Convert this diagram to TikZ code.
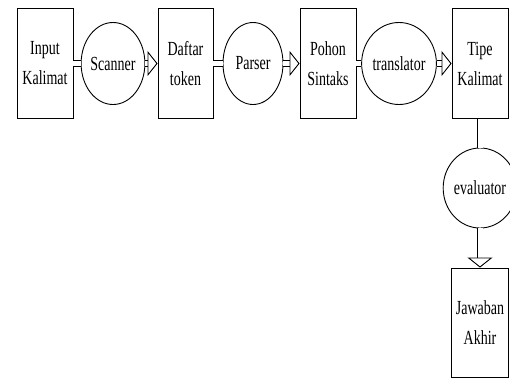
\documentclass[tikz,border=0pt]{standalone}
\usepackage{fontspec}
\setmainfont{Liberation Serif}
\usetikzlibrary{shapes.geometric,arrows.meta}
\newcommand{\nar}[1]{\scalebox{0.7}[1]{#1}}
\tikzset{
	box/.style={draw, line width=0.9pt, minimum width=56pt, minimum height=110pt, inner sep=0pt, align=center},
	bubble/.style={draw, ellipse, line width=0.9pt, minimum width=62pt, minimum height=82pt, inner sep=0pt},
	link/.style={double, double distance=5pt, line width=0.9pt},
	flow/.style={link, -{Triangle[open,length=10pt,width=25pt,line width=0.9pt]}}
}
\begin{document}
\begin{tikzpicture}[x=1pt,y=-1pt,font=\fontsize{20}{30}\selectfont]
	\useasboundingbox (0,0) rectangle (510,378);
	\node[box] (inp) at (45,63.5) {\nar{Input}\\\nar{Kalimat}};
	\node[bubble] (scan) at (113,63.5) {\nar{Scanner}};
	\node[box, minimum width=55pt] (daf) at (185.5,63.5) {\nar{Daftar}\\\nar{token}};
	\node[bubble, minimum width=60pt] (pars) at (253,63.5) {\nar{Parser}};
	\node[box] (poh) at (328,63.5) {\nar{Pohon}\\\nar{Sintaks}};
	\node[bubble, minimum width=68pt] (trans) at (399,63.5) {\nar{translator}};
	\node[box] (tipe) at (480,63.5) {\nar{Tipe}\\\nar{Kalimat}};
	\node[bubble, minimum width=70pt, minimum height=80pt] (eval) at (480,188) {\nar{evaluator}};
	\node[box, minimum width=57pt, minimum height=109pt] (jaw) at (480,322.5) {\nar{Jawaban}\\\nar{Akhir}};
	% connectors
	\draw[link] (inp) -- (scan);
	\draw[flow] (scan) -- (daf);
	\draw[link] (daf) -- (pars);
	\draw[flow] (pars) -- (poh);
	\draw[link] (poh) -- (trans);
	\draw[flow] (trans) -- (tipe);
	\draw[link] (tipe) -- (eval);
	\draw[flow] (eval) -- (jaw);
\end{tikzpicture}
\end{document}
